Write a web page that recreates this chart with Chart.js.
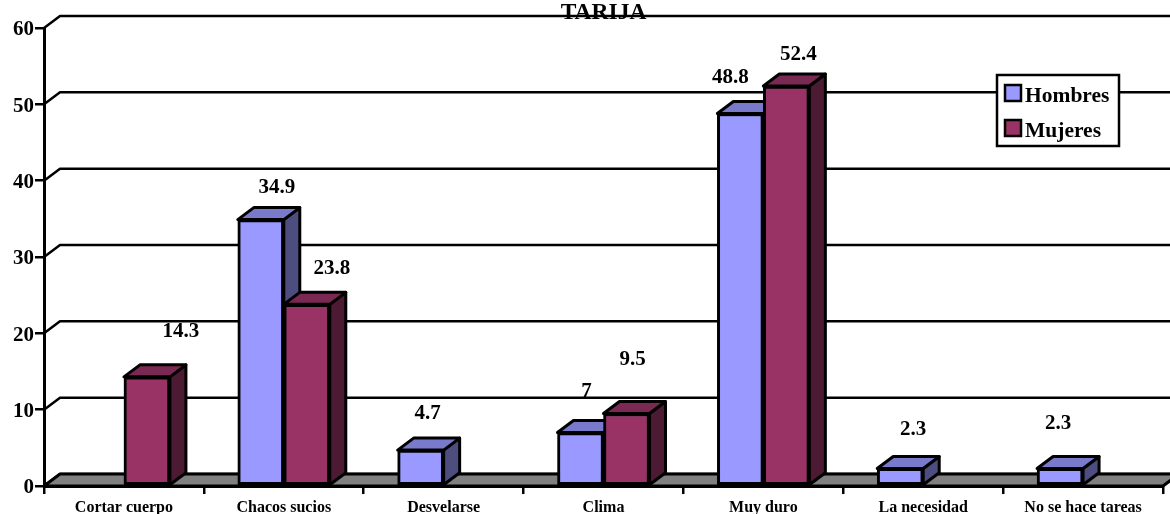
<!DOCTYPE html>
<html lang="es">
<head>
    <meta charset="UTF-8">
    <title>Tarija</title>
    <script src="https://cdn.jsdelivr.net/npm/chart.js"></script>
    <style>
        body { margin: 0; background: #fff; overflow: hidden; }
        canvas { display: block; }
    </style>
</head>
<body>
    <canvas id="grafico" width="1170" height="514"></canvas>
    <script>
        const categorias = ['Cortar cuerpo', 'Chacos sucios', 'Desvelarse', 'Clima', 'Muy duro', 'La necesidad', 'No se hace tareas'];
        const hombres = [null, 34.9, 4.7, 7, 48.8, 2.3, 2.3];
        const mujeres = [14.3, 23.8, null, 9.5, 52.4, null, null];

        const serif = "'Liberation Serif', 'Times New Roman', serif";

        // profundidad del efecto 3D
        const dx = 16;
        const dy = -12;

        // los rotulos del original estan movidos a mano respecto a cada barra
        const desvioHombres = [null, [16, -32], [7, -37], [6, -41], [-10, -36], [13, -39], [-2, -45]];
        const desvioMujeres = [[34, -45], [25, -36], null, [6, -54], [12, -31], null, null];

        function poligono(ctx, puntos, relleno) {
            ctx.beginPath();
            puntos.forEach((p, i) => i ? ctx.lineTo(p[0], p[1]) : ctx.moveTo(p[0], p[1]));
            ctx.closePath();
            if (relleno) {
                ctx.fillStyle = relleno;
                ctx.fill();
            }
            ctx.stroke();
        }

        const efecto3d = {
            id: 'efecto3d',
            beforeDatasetsDraw(chart) {
                const ctx = chart.ctx;
                const area = chart.chartArea;
                const y = chart.scales.y;
                ctx.save();
                ctx.strokeStyle = '#000';
                ctx.lineWidth = 2.5;
                ctx.lineJoin = 'round';

                // lineas de la pared del fondo
                y.ticks.forEach(t => {
                    const py = y.getPixelForValue(t.value);
                    ctx.beginPath();
                    ctx.moveTo(area.left, py);
                    ctx.lineTo(area.left + dx, py + dy);
                    ctx.lineTo(area.right + dx, py + dy);
                    ctx.stroke();
                });

                // piso
                ctx.lineWidth = 3;
                poligono(ctx, [
                    [area.left, area.bottom],
                    [area.left + dx, area.bottom + dy],
                    [area.right + dx, area.bottom + dy],
                    [area.right, area.bottom]
                ], '#808080');

                // caras laterales y superiores de las barras
                chart.data.datasets.forEach((ds, i) => {
                    chart.getDatasetMeta(i).data.forEach((bar, j) => {
                        if (ds.data[j] === null) return;
                        const izq = bar.x - bar.width / 2;
                        const der = bar.x + bar.width / 2;
                        poligono(ctx, [[der, bar.base], [der + dx, bar.base + dy], [der + dx, bar.y + dy], [der, bar.y]], ds.colorLado);
                        poligono(ctx, [[izq, bar.y], [izq + dx, bar.y + dy], [der + dx, bar.y + dy], [der, bar.y]], ds.colorTapa);
                    });
                });
                ctx.restore();
            },
            afterDatasetsDraw(chart) {
                const ctx = chart.ctx;
                ctx.save();

                // valores sobre las barras
                ctx.fillStyle = '#000';
                ctx.font = 'bold 21px ' + serif;
                ctx.textAlign = 'center';
                ctx.textBaseline = 'middle';
                chart.data.datasets.forEach((ds, i) => {
                    chart.getDatasetMeta(i).data.forEach((bar, j) => {
                        if (ds.data[j] === null) return;
                        const d = ds.desvios[j];
                        ctx.fillText(String(ds.data[j]), bar.x + d[0], bar.y + d[1]);
                    });
                });

                // leyenda
                ctx.fillStyle = '#fff';
                ctx.strokeStyle = '#000';
                ctx.lineWidth = 2.5;
                ctx.fillRect(997, 75, 122, 71);
                ctx.strokeRect(997, 75, 122, 71);
                ctx.font = 'bold 21.5px ' + serif;
                ctx.textAlign = 'left';
                ctx.textBaseline = 'alphabetic';
                chart.data.datasets.forEach((ds, i) => {
                    const top = 85 + i * 35;
                    ctx.fillStyle = ds.backgroundColor;
                    ctx.fillRect(1005, top, 16, 16);
                    ctx.strokeRect(1005, top, 16, 16);
                    ctx.fillStyle = '#000';
                    ctx.fillText(ds.label, 1025, top + 17);
                });
                ctx.restore();
            }
        };

        new Chart(document.getElementById('grafico'), {
            type: 'bar',
            data: {
                labels: categorias,
                datasets: [
                    { label: 'Hombres', data: hombres, backgroundColor: '#9999FF', colorLado: '#4D4D80', colorTapa: '#7A7ACC', desvios: desvioHombres },
                    { label: 'Mujeres', data: mujeres, backgroundColor: '#993366', colorLado: '#4D1A33', colorTapa: '#7A2952', desvios: desvioMujeres }
                ]
            },
            options: {
                responsive: false,
                animation: false,
                layout: { padding: { left: 0, right: 7, top: 0, bottom: 0 } },
                datasets: {
                    bar: { barThickness: 46, borderColor: '#000', borderWidth: 3, borderSkipped: false }
                },
                scales: {
                    x: {
                        afterFit(scale) { scale.height = 28; },
                        border: { color: '#000', width: 3 },
                        grid: { drawOnChartArea: false, color: '#000', lineWidth: 2.5, tickLength: 8 },
                        ticks: {
                            color: '#000',
                            padding: 4,
                            maxRotation: 0,
                            autoSkip: false,
                            font: { family: serif, size: 16, weight: 'bold' }
                        }
                    },
                    y: {
                        min: 0,
                        max: 60,
                        afterFit(scale) { scale.width = 44; },
                        border: { color: '#000', width: 3 },
                        grid: { drawOnChartArea: false, color: '#000', lineWidth: 2.5, tickLength: 9 },
                        ticks: {
                            color: '#000',
                            stepSize: 10,
                            padding: 1,
                            labelOffset: 2,
                            font: { family: serif, size: 21, weight: 'bold' }
                        }
                    }
                },
                plugins: {
                    legend: { display: false },
                    tooltip: { enabled: false },
                    title: {
                        display: true,
                        fullSize: false,
                        text: 'TARIJA',
                        color: '#000',
                        padding: { top: -1, bottom: 0.8 },
                        font: { family: serif, size: 23.5, weight: 'bold' }
                    }
                }
            },
            plugins: [efecto3d]
        });
    </script>
</body>
</html>
